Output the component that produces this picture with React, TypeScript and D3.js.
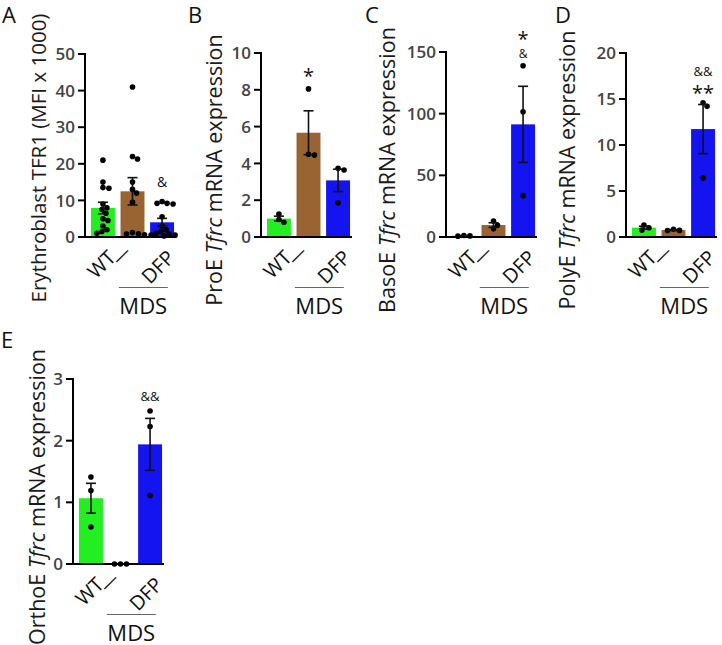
import React from "react";
import * as d3 from "d3";

const groups = ["WT", "—", "DFP"];
const barColors = ["#22ee22", "#9a6432", "#1414f0"];

// Panel A: Erythroblast TFR1 (MFI x 1000)
const tfr1WT = [21, 15, 13.5, 13.3, 9, 8, 7.5, 6.5, 5, 4.5, 3, 2, 1.5, 1];
const tfr1MDS = [41, 22, 21.3, 15, 13, 12, 9.5, 1.2, 0.8, 0.6, 0.9];
const tfr1DFP = [9.7, 9.2, 9.2, 9, 5.5, 3, 2, 1.5, 1, 0.8, 0.5, 0.5, 0.3];
const ticksA = [0, 10, 20, 30, 40, 50];

// Panel B: ProE Tfrc
const proeWT = [1.25, 0.95, 0.8];
const proeMDS = [8.05, 4.5, 4.45];
const proeDFP = [3.73, 3.64, 1.86];
const ticksB = [0, 2, 4, 6, 8, 10];

// Panel C: BasoE Tfrc
const basoWT = [1.2, 0.9, 0.7];
const basoMDS = [13, 9.5, 6.6];
const basoDFP = [138.9, 101.6, 33.5];
const ticksC = [0, 50, 100, 150];

// Panel D: PolyE Tfrc
const polyWT = [1.3, 1.0, 0.75];
const polyMDS = [0.85, 0.7, 0.72];
const polyDFP = [14.6, 14.2, 6.4];
const ticksD = [0, 5, 10, 15, 20];

// Panel E: OrthoE Tfrc
const orthoWT = [1.41, 1.19, 0.6];
const orthoMDS = [0, 0, 0];
const orthoDFP = [2.48, 2.23, 1.11];
const ticksE = [0, 1, 2, 3];

const FONT = "'Open Sans', 'DejaVu Sans', sans-serif";

type Note = { i: number; text: string; size: number; y: number };
type PanelCfg = {
  letter: string;
  lx: number;
  ly: number;
  x0: number;
  base: number;
  top: number;
  ticks: number[];
  data: number[][];
  title: { t: string; it?: boolean }[];
  tx: number;
  ty: number;
  tsize: number;
  notes: Note[];
};

const panels: PanelCfg[] = [
  {
    letter: "A", lx: 2, ly: 23, x0: 85, base: 237, top: 54, ticks: ticksA,
    data: [tfr1WT, tfr1MDS, tfr1DFP],
    title: [{ t: "Erythroblast TFR1 (MFI x 1000)" }], tx: 46, ty: 158, tsize: 20.5,
    notes: [{ i: 2, text: "&", size: 14, y: 187 }],
  },
  {
    letter: "B", lx: 188, ly: 23, x0: 261, base: 237, top: 53, ticks: ticksB,
    data: [proeWT, proeMDS, proeDFP],
    title: [{ t: "ProE " }, { t: "Tfrc", it: true }, { t: " mRNA expression" }], tx: 222, ty: 170, tsize: 21.5,
    notes: [{ i: 1, text: "*", size: 20, y: 82.5 }],
  },
  {
    letter: "C", lx: 365, ly: 23, x0: 446, base: 237, top: 52, ticks: ticksC,
    data: [basoWT, basoMDS, basoDFP],
    title: [{ t: "BasoE " }, { t: "Tfrc", it: true }, { t: " mRNA expression" }], tx: 395, ty: 170, tsize: 21.5,
    notes: [
      { i: 2, text: "*", size: 20, y: 46 },
      { i: 2, text: "&", size: 12, y: 58 },
    ],
  },
  {
    letter: "D", lx: 555, ly: 23, x0: 626, base: 237, top: 53, ticks: ticksD,
    data: [polyWT, polyMDS, polyDFP],
    title: [{ t: "PolyE " }, { t: "Tfrc", it: true }, { t: " mRNA expression" }], tx: 575, ty: 170, tsize: 21.5,
    notes: [
      { i: 2, text: "&&", size: 13, y: 76 },
      { i: 2, text: "**", size: 20, y: 99.5 },
    ],
  },
  {
    letter: "E", lx: 1, ly: 348, x0: 73, base: 564, top: 379, ticks: ticksE,
    data: [orthoWT, orthoMDS, orthoDFP],
    title: [{ t: "OrthoE " }, { t: "Tfrc", it: true }, { t: " mRNA expression" }], tx: 45, ty: 497, tsize: 21.5,
    notes: [{ i: 2, text: "&&", size: 13, y: 400.5 }],
  },
];

const R = 2.8;

function swarm(values: number[], y: (v: number) => number) {
  const placed: { x: number; y: number }[] = [];
  const sorted = [...values].sort((a, b) => b - a);
  sorted.forEach((v) => {
    const py = y(v);
    let dx = 0;
    for (let k = 0; k < 200; k++) {
      const cand = k === 0 ? 0 : (k % 2 === 1 ? 1 : -1) * Math.ceil(k / 2);
      const ok = placed.every((p) => Math.hypot(p.x - cand, p.y - py) >= 2 * R - 0.3);
      if (ok) { dx = cand; break; }
    }
    placed.push({ x: dx, y: py });
  });
  return placed;
}

function Panel({ p }: { p: PanelCfg }) {
  const max = p.ticks[p.ticks.length - 1];
  const y = d3.scaleLinear().domain([0, max]).range([p.base, p.top]);
  const x = d3.scaleBand<string>().domain(groups).range([p.x0 + 3, p.x0 + 92]).paddingInner(0.19).paddingOuter(0.1);
  const bw = x.bandwidth();
  const cx = (g: string) => (x(g) as number) + bw / 2;
  const brownC = cx(groups[1]);
  const blueC = cx(groups[2]);
  const mdsC = (brownC + blueC) / 2 - 4;
  return (
    <g>
      <text x={p.lx} y={p.ly} fontSize={22} fontFamily={FONT} fill="#111">{p.letter}</text>
      <text
        transform={`rotate(-90, ${p.tx}, ${p.ty})`}
        x={p.tx} y={p.ty}
        textAnchor="middle" fontSize={p.tsize} fontFamily={FONT} fill="#1a1a1a"
      >
        {p.title.map((s, k) => (
          <tspan key={k} fontStyle={s.it ? "italic" : "normal"}>{s.t}</tspan>
        ))}
      </text>
      {/* bars */}
      {p.data.map((vals, i) => {
        const m = d3.mean(vals) as number;
        return m > 0 ? (
          <rect key={"b" + i} x={x(groups[i])} y={y(m)} width={bw} height={p.base - y(m)} fill={barColors[i]} />
        ) : null;
      })}
      {/* dots */}
      {p.data.map((vals, i) =>
        swarm(vals, y).map((d, k) => (
          <circle key={"d" + i + "-" + k} cx={cx(groups[i]) + d.x} cy={d.y} r={R} fill="#000" />
        ))
      )}
      {/* error bars (mean ± SEM) */}
      {p.data.map((vals, i) => {
        const m = d3.mean(vals) as number;
        const sd = d3.deviation(vals) || 0;
        const se = sd / Math.sqrt(vals.length);
        if (se === 0) return null;
        const c = cx(groups[i]);
        const hi = y(m + se), lo = y(Math.max(0, m - se));
        return (
          <g key={"e" + i} stroke="#111" strokeWidth={1.6}>
            <line x1={c} x2={c} y1={hi} y2={lo} />
            <line x1={c - 5} x2={c + 5} y1={hi} y2={hi} />
            <line x1={c - 5} x2={c + 5} y1={lo} y2={lo} />
          </g>
        );
      })}
      {/* axes */}
      <line x1={p.x0} x2={p.x0} y1={p.top - 1} y2={p.base + 1} stroke="#000" strokeWidth={2} />
      <line x1={p.x0 - 1} x2={p.x0 + 91} y1={p.base} y2={p.base} stroke="#000" strokeWidth={2} />
      {p.ticks.map((t) => (
        <g key={"t" + t}>
          <line x1={p.x0 - 7} x2={p.x0} y1={y(t)} y2={y(t)} stroke="#000" strokeWidth={2} />
          <text x={p.x0 - 10} y={y(t)} dy="0.36em" textAnchor="end" fontSize={17} fontWeight={600} fontFamily={FONT} fill="#444">{t}</text>
        </g>
      ))}
      {/* x labels, rotated 45 degrees */}
      {groups.map((g, i) => {
        const px = i === 1 ? cx(g) - 7 : cx(g) + 14;
        const py = i === 1 ? p.base + 22.6 : p.base + 22;
        return (
          <text key={"x" + i} x={px} y={py} transform={`rotate(-45, ${px}, ${py})`}
            textAnchor={i === 1 ? "middle" : "end"} fontSize={i === 1 ? 18 : 20} fontFamily={FONT} fill="#111">{g}</text>
        );
      })}
      <line x1={mdsC - 24.5} x2={mdsC + 24.5} y1={p.base + 50.5} y2={p.base + 50.5} stroke="#666" strokeWidth={1} />
      <text x={mdsC} y={p.base + 76.5} textAnchor="middle" fontSize={22} fontFamily={FONT} fill="#111">MDS</text>
      {p.notes.map((n, k) => (
        <text key={"n" + k} x={cx(groups[n.i])} y={n.y} textAnchor="middle" fontSize={n.size} fontFamily={FONT} fill="#111">{n.text}</text>
      ))}
    </g>
  );
}

export default function App() {
  return (
    <svg width={722} height={645} style={{ position: "absolute", left: 0, top: 0, background: "#fff" }}>
      <rect width={722} height={645} fill="#fff" />
      {panels.map((p) => (
        <Panel key={p.letter} p={p} />
      ))}
    </svg>
  );
}
